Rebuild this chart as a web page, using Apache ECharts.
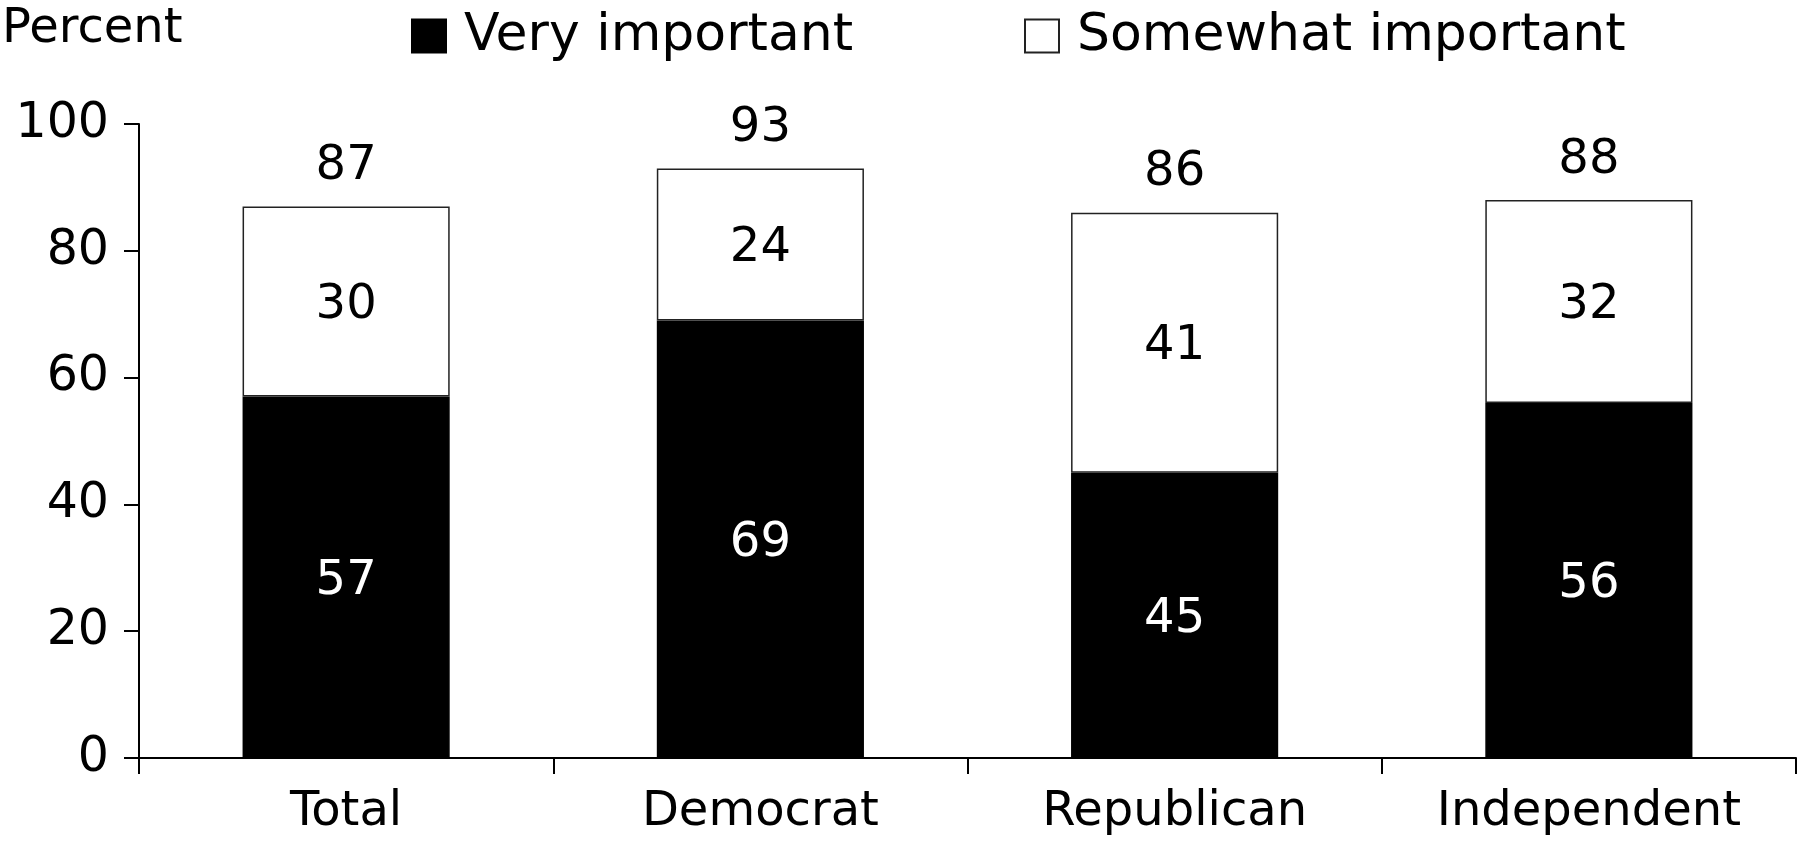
<!DOCTYPE html>
<html>
<head>
<meta charset="utf-8">
<script src="https://cdn.jsdelivr.net/npm/echarts@6/dist/echarts.min.js"></script>
<style>
  html, body { margin: 0; padding: 0; background: #fff; }
  #chart { width: 1801px; height: 861px; }
</style>
</head>
<body>
<div id="chart"></div>
<script>
// Share saying each item is important, by party
const categories = ['Total', 'Democrat', 'Republican', 'Independent'];
const veryImportant = [57, 69, 45, 56];
const somewhatImportant = [30, 24, 41, 32];
const totals = [87, 93, 86, 88];
const yMin = 0;
const yMax = 100;
const yStep = 20;

const FONT = 'DejaVu Sans';
const chart = echarts.init(document.getElementById('chart'), null, { renderer: 'canvas' });

const legendBase = {
  orient: 'horizontal',
  top: 5,
  icon: 'rect',
  itemWidth: 34,
  itemHeight: 33,
  textStyle: { fontFamily: FONT, fontSize: 52, color: '#000', padding: [0, 0, 0, 13] }
};

chart.setOption({
  animation: false,
  backgroundColor: '#fff',
  title: {
    text: 'Percent',
    left: 2,
    top: 6,
    padding: 0,
    textStyle: { fontFamily: FONT, fontSize: 48, fontWeight: 'normal', color: '#000' }
  },
  legend: [
    Object.assign({}, legendBase, { left: 406, data: ['Very important'] }),
    Object.assign({}, legendBase, { left: 1019, data: ['Somewhat important'] })
  ],
  grid: { left: 139, right: 5, top: 124, bottom: 103, containLabel: false },
  xAxis: {
    type: 'category',
    data: categories,
    boundaryGap: true,
    axisLine: { lineStyle: { color: '#000', width: 2 } },
    axisTick: { show: true, alignWithLabel: false, length: 16, lineStyle: { color: '#000', width: 2 } },
    axisLabel: { fontFamily: FONT, fontSize: 48, color: '#000', margin: 31 }
  },
  yAxis: {
    type: 'value',
    min: yMin,
    max: yMax,
    interval: yStep,
    splitLine: { show: false },
    axisLine: { show: true, lineStyle: { color: '#000', width: 2 } },
    axisTick: { show: true, length: 15, lineStyle: { color: '#000', width: 2 } },
    axisLabel: { fontFamily: FONT, fontSize: 49, color: '#000', margin: 30 }
  },
  series: [
    {
      name: 'Very important',
      type: 'bar',
      stack: 'share',
      barWidth: '50%',
      barGap: '-100%',
      data: veryImportant,
      itemStyle: { color: '#000', borderColor: '#000', borderWidth: 1.5 },
      label: { show: true, position: 'inside', offset: [0, 4], color: '#fff', fontFamily: FONT, fontSize: 48 }
    },
    {
      name: 'Somewhat important',
      type: 'bar',
      stack: 'share',
      barWidth: '50%',
      barGap: '-100%',
      data: somewhatImportant,
      itemStyle: { color: '#fff', borderColor: '#222', borderWidth: 1.5 },
      label: { show: true, position: 'inside', offset: [0, 4], color: '#000', fontFamily: FONT, fontSize: 48 }
    },
    {
      // combined share, used for the figure printed above each column
      name: 'Total',
      type: 'bar',
      barWidth: '50%',
      barGap: '-100%',
      silent: true,
      z: 1,
      data: totals,
      itemStyle: { color: 'rgba(0,0,0,0)' },
      label: { show: true, position: 'top', distance: 16, color: '#000', fontFamily: FONT, fontSize: 48 }
    }
  ]
});
</script>
</body>
</html>
